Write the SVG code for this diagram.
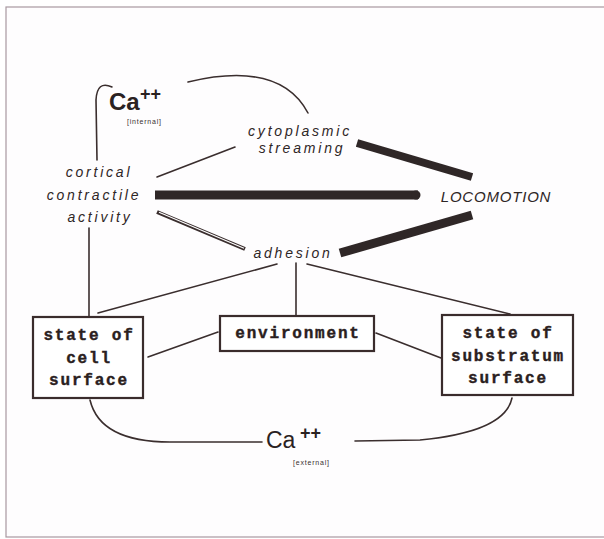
<svg xmlns="http://www.w3.org/2000/svg" width="604" height="539" viewBox="0 0 604 539">
<style>
.lbl{font-family:"Liberation Sans",Arial,sans-serif;font-style:italic;font-size:14px;letter-spacing:2.8px;fill:#2e2626;text-anchor:middle}
.loco{font-family:"Liberation Sans",Arial,sans-serif;font-style:italic;font-size:15px;letter-spacing:0.8px;fill:#2e2626;text-anchor:middle}
.box{fill:#fff;stroke:#3a2c2c;stroke-width:2.2}
.bt{font-family:"Liberation Mono","Courier New",monospace;font-weight:bold;font-size:16px;letter-spacing:1.8px;fill:#2a2020;stroke:#2a2020;stroke-width:0.4;text-anchor:middle}
.ln{fill:none;stroke:#3a2e2e;stroke-width:1.6;stroke-linecap:round}
.thick{stroke:#2f2727;stroke-width:9}
.ca{font-family:"Liberation Sans",Arial,sans-serif;fill:#2a2222}
.tiny{font-family:"Liberation Sans",Arial,sans-serif;font-size:7px;letter-spacing:0.8px;fill:#3a3030}
</style>
<rect x="0" y="0" width="604" height="539" fill="#fff"/>
<rect x="6" y="7" width="602" height="530" fill="#fefdfe" stroke="#a898a0" stroke-width="1.2"/>

<g id="connectors">
  <path class="ln" d="M97,160 L96,100 Q97,80 112,87"/>
  <path class="ln" d="M188,82 Q280,60 308,113"/>
  <line class="ln" x1="157" y1="177" x2="235" y2="147"/>
  <line class="thick" x1="155" y1="195" x2="418" y2="195" stroke-linecap="butt"/>
  <circle cx="416" cy="195" r="4.5" fill="#2f2727"/>
  <line class="thick" x1="357" y1="143" x2="472" y2="177" style="stroke-width:8"/>
  <line class="thick" x1="340" y1="253" x2="472" y2="215"/>
  <line x1="157" y1="212" x2="245" y2="249" stroke="#3a2e2e" stroke-width="4"/>
  <line x1="159" y1="212.3" x2="244" y2="248.3" stroke="#fff" stroke-width="1.2"/>
  <line class="ln" x1="89" y1="228" x2="89" y2="316"/>
  <line class="ln" x1="277" y1="264" x2="98" y2="313"/>
  <line class="ln" x1="296" y1="263" x2="296" y2="315"/>
  <line class="ln" x1="307" y1="264" x2="510" y2="314"/>
  <line class="ln" x1="148" y1="357" x2="218" y2="332"/>
  <line class="ln" x1="376" y1="333" x2="441" y2="358"/>
  <path class="ln" d="M90,400 Q100,442 170,442 L262,442"/>
  <path class="ln" d="M355,441 L420,440 Q505,432 512,398"/>
</g>

<g id="ca-internal">
  <text class="ca" x="109" y="110" font-size="24" font-weight="bold">Ca</text>
  <text class="ca" x="140" y="100" font-size="18" font-weight="bold">++</text>
  <text class="tiny" x="127" y="124">[internal]</text>
</g>

<g id="cytoplasmic">
  <text class="lbl" x="300" y="136">cytoplasmic</text>
  <text class="lbl" x="302" y="153">streaming</text>
</g>

<g id="cortical">
  <text class="lbl" x="99" y="177">cortical</text>
  <text class="lbl" x="94" y="200">contractile</text>
  <text class="lbl" x="100" y="222">activity</text>
</g>

<g id="locomotion">
  <text class="loco" x="496" y="202">LOCOMOTION</text>
</g>

<g id="adhesion">
  <text class="lbl" x="293" y="258">adhesion</text>
</g>

<g id="cell-surface">
  <rect class="box" x="33" y="317" width="110" height="81"/>
  <text class="bt" x="89" y="340">state of</text>
  <text class="bt" x="89" y="363">cell</text>
  <text class="bt" x="89" y="385">surface</text>
</g>

<g id="environment">
  <rect class="box" x="220" y="316" width="154" height="35"/>
  <text class="bt" x="298" y="338">environment</text>
</g>

<g id="substratum-surface">
  <rect class="box" x="442" y="315" width="131" height="80"/>
  <text class="bt" x="508" y="338">state of</text>
  <text class="bt" x="508" y="361">substratum</text>
  <text class="bt" x="508" y="383">surface</text>
</g>

<g id="ca-external">
  <text class="ca" x="266" y="448" font-size="23">Ca</text>
  <text class="ca" x="300" y="439" font-size="18" font-weight="bold">++</text>
  <text class="tiny" x="293" y="465">[external]</text>
</g>
</svg>
